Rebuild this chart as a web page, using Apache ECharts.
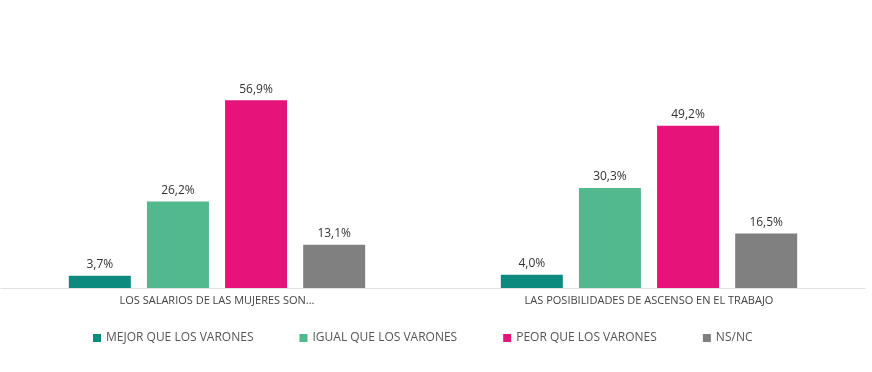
<!DOCTYPE html>
<html><head><meta charset="utf-8">
<script src="https://cdn.jsdelivr.net/npm/echarts@6/dist/echarts.min.js"></script>
<style>html,body{margin:0;padding:0;background:#fff}#c{width:872px;height:372px}</style>
</head><body><div id="c"></div>
<script>
const categories = ['LOS SALARIOS DE LAS MUJERES SON...', 'LAS POSIBILIDADES DE ASCENSO EN EL TRABAJO'];
const seriesNames = ['MEJOR QUE LOS VARONES', 'IGUAL QUE LOS VARONES', 'PEOR QUE LOS VARONES', 'NS/NC'];
const mejor = [3.7, 4.0];
const igual = [26.2, 30.3];
const peor = [56.9, 49.2];
const nsnc = [13.1, 16.5];
const values = [mejor, igual, peor, nsnc];
const colors = ['#0b8a7d', '#52b98f', '#e6137a', '#808080'];
const font = 'Open Sans';
const chart = echarts.init(document.getElementById('c'));
chart.setOption({
  animation: false,
  textStyle: { fontFamily: font },
  legend: {
    bottom: 23, left: 88, itemWidth: 8, itemHeight: 8, itemGap: 46, icon: 'rect',
    textStyle: { fontFamily: font, fontSize: 12, color: '#555' },
    data: seriesNames
  },
  grid: { left: 1, right: 7, top: 90, bottom: 84, containLabel: false },
  xAxis: {
    type: 'category', data: categories,
    axisLine: { lineStyle: { color: '#e2e2e2', width: 1 } },
    axisTick: { show: false },
    axisLabel: { fontFamily: font, fontSize: 11, color: '#444', margin: 7 }
  },
  yAxis: { type: 'value', min: 0, max: 60, show: false, splitLine: { show: false } },
  series: seriesNames.map((n, i) => ({
    name: n, type: 'bar', data: values[i],
    barWidth: 62, barGap: '26%', barCategoryGap: '31%',
    itemStyle: { color: colors[i] },
    label: { show: true, position: 'top', distance: 5, fontFamily: font, fontSize: 12, color: '#333',
      formatter: p => p.value.toFixed(1).replace('.', ',') + '%' }
  }))
});
</script></body></html>
